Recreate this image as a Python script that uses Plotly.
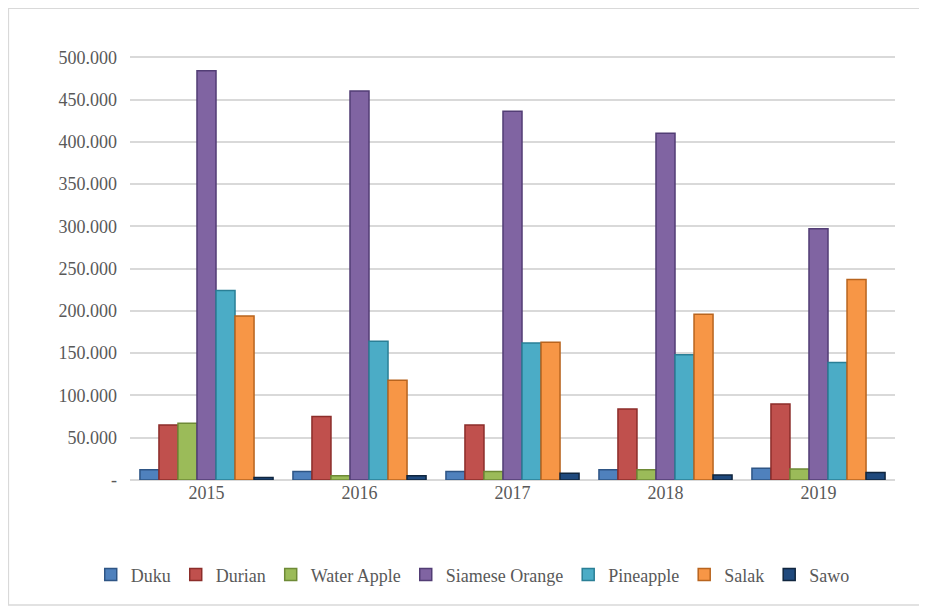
import plotly.graph_objects as go

years = ["2015", "2016", "2017", "2018", "2019"]
duku = [12000, 10000, 10000, 12000, 14000]
durian = [65000, 75000, 65000, 84000, 90000]
water_apple = [67000, 5000, 10000, 12000, 13000]
siamese_orange = [484000, 460000, 436000, 410000, 297000]
pineapple = [224000, 164000, 162000, 148000, 139000]
salak = [194000, 118000, 163000, 196000, 237000]
sawo = [3000, 5000, 8000, 6000, 9000]

series_names = ["Duku", "Durian", "Water Apple", "Siamese Orange", "Pineapple", "Salak", "Sawo"]
series_values = [duku, durian, water_apple, siamese_orange, pineapple, salak, sawo]
colors = ["#4F81BD", "#C0504D", "#9BBB59", "#8064A2", "#4BACC6", "#F79646", "#1F497D"]
edge_colors = ["#2E5585", "#8C2D2A", "#6E8A36", "#523D75", "#2A7F96", "#B8641E", "#10263F"]

tick_vals = [0, 50000, 100000, 150000, 200000, 250000, 300000, 350000, 400000, 450000, 500000]
tick_text = ["-", "50.000", "100.000", "150.000", "200.000", "250.000", "300.000",
             "350.000", "400.000", "450.000", "500.000"]

FONT = "Times New Roman, Liberation Serif, serif"

fig = go.Figure()
for name, vals, c, ec in zip(series_names, series_values, colors, edge_colors):
    fig.add_trace(go.Bar(x=years, y=vals, name=name,
                         marker=dict(color=c, line=dict(color=ec, width=1.5))))

fig.update_layout(
    width=927, height=611,
    margin=dict(l=122, r=40, t=45, b=139),
    barmode="group", bargap=0.13, bargroupgap=0.0,
    plot_bgcolor="white", paper_bgcolor="white",
    font=dict(family=FONT, size=18, color="#595959"),
    xaxis=dict(showgrid=False, showline=False, ticks="",
               tickfont=dict(family=FONT, size=18, color="#595959")),
    yaxis=dict(range=[0, 505000], tickvals=tick_vals, ticktext=tick_text,
               showgrid=True, gridcolor="#D9D9D9", gridwidth=1.5,
               zeroline=True, zerolinecolor="#D9D9D9", ticks="",
               ticklabelstandoff=12,
               tickfont=dict(family=FONT, size=18, color="#595959")),
    legend=dict(orientation="h", x=0.448, xanchor="center", y=-0.222, yanchor="middle",
                font=dict(family=FONT, size=18, color="#595959"),
                itemwidth=30, traceorder="normal"),
    showlegend=True,
    shapes=[dict(type="rect", xref="paper", yref="paper",
                 x0=-0.159, x1=1.033, y0=-0.293, y1=1.105,
                 line=dict(color="#D9D9D9", width=1.5), fillcolor="rgba(0,0,0,0)",
                 layer="below")],
)

fig.write_html("out.html")
